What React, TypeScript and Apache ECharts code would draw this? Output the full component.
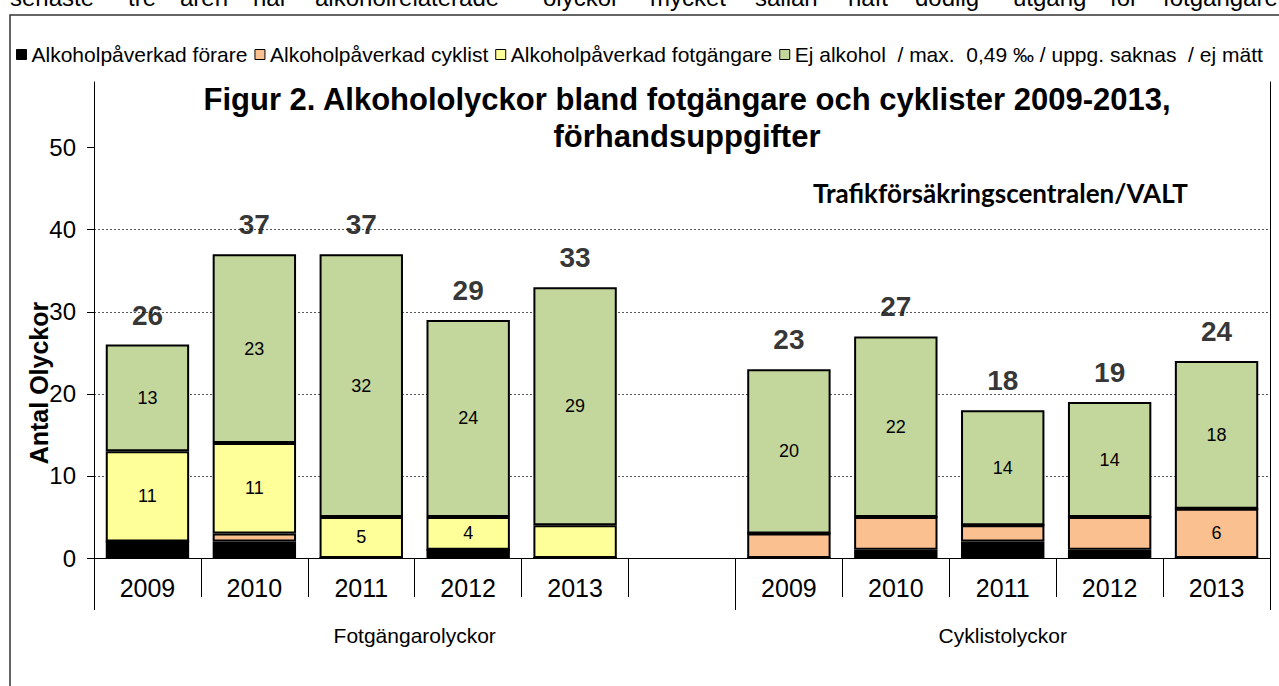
import React, { useEffect, useRef } from "react";
import * as echarts from "echarts";

// ---- data ----
const categories = ["2009", "2010", "2011", "2012", "2013", "", "2009", "2010", "2011", "2012", "2013"];
const groups = ["Fotgängarolyckor", "Cyklistolyckor"];
const groupBounds = [0, 6, 11];
const groupCenters = [3, 8.5];
const seriesNames = [
  "Alkoholpåverkad förare",
  "Alkoholpåverkad cyklist",
  "Alkoholpåverkad fotgängare",
  "Ej alkohol  / max.  0,49 ‰ / uppg. saknas  / ej mätt",
];
const forare = [2, 2, 0, 1, 0, null, 0, 1, 2, 1, 0];
const cyklist = [0, 1, 0, 0, 0, null, 3, 4, 2, 4, 6];
const fotgangare = [11, 11, 5, 4, 4, null, 0, 0, 0, 0, 0];
const ejAlkohol = [13, 23, 32, 24, 29, null, 20, 22, 14, 14, 18];
const totals = [26, 37, 37, 29, 33, null, 23, 27, 18, 19, 24];
const yTicks = [0, 10, 20, 30, 40, 50];

// which segments carry a value label
const showForare = [false, false, false, false, false, false, false, false, false, false, false];
const showCyklist = [false, false, false, false, false, false, false, false, false, false, true];
const showFotg = [true, true, true, true, false, false, false, false, false, false, false];
const showEj = [true, true, true, true, true, false, true, true, true, true, true];

const titleText = "Figur 2. Alkohololyckor bland fotgängare och cyklister 2009-2013,\nförhandsuppgifter";
const sourceText = "Trafikförsäkringscentralen/VALT";
const yTitle = "Antal Olyckor";
const topWords = ["senaste", "tre", "åren", "har", "alkoholrelaterade", "olyckor", "mycket", "sällan", "haft", "dödlig", "utgång", "för", "fotgängare."];
const topWordX = [10, 128, 180, 253, 315, 543, 650, 755, 848, 915, 1013, 1110, 1163];

const colors = ["#000000", "#FAC090", "#FFFF99", "#C3D69B"];
const FONT = "'Liberation Sans', Arial, sans-serif";

export default function App() {
  const ref = useRef<HTMLDivElement>(null);
  useEffect(() => {
    const chart = echarts.init(ref.current!, null, { renderer: "svg" });
    const values = [forare, cyklist, fotgangare, ejAlkohol];
    const shows = [showForare, showCyklist, showFotg, showEj];
    const barSeries = values.map((arr, si) => ({
      type: "bar",
      name: seriesNames[si],
      stack: "total",
      barWidth: "78%",
      itemStyle: { color: colors[si], borderColor: "#000", borderWidth: 2 },
      label: {
        show: false,
        position: "inside",
        color: "#000",
        fontSize: 18,
        fontFamily: FONT,
      },
      data: arr.map((v, i) => ({ value: v, label: { show: shows[si][i] } })),
    }));

    const graphic: any[] = [
      {
        type: "rect",
        shape: { x: 10, y: 15, width: 1400, height: 800 },
        style: { fill: "none", stroke: "#333", lineWidth: 1.5 },
        silent: true,
      },
      ...topWords.map((w, i) => ({
        type: "text",
        x: topWordX[i],
        y: -3,
        style: { text: w, font: `24px ${FONT}`, fill: "#000", verticalAlign: "middle", align: "left" },
      })),
      {
        type: "text",
        x: 687,
        y: 81,
        style: {
          text: titleText,
          font: `bold 31px ${FONT}`,
          fill: "#000",
          align: "center",
          verticalAlign: "top",
          lineHeight: 37,
        },
      },
      {
        type: "text",
        x: 813,
        y: 193,
        style: { text: sourceText, font: `bold 26px Lato, 'Open Sans', sans-serif`, fill: "#000", verticalAlign: "middle", align: "left" },
      },
      {
        type: "text",
        x: 39,
        y: 383,
        rotation: Math.PI / 2,
        style: { text: yTitle, font: `bold 25px ${FONT}`, fill: "#000", align: "center", verticalAlign: "middle" },
      },
    ];

    chart.setOption({
      animation: false,
      backgroundColor: "#fff",
      textStyle: { fontFamily: FONT },
      legend: {
        data: seriesNames,
        left: 16,
        top: 44,
        padding: 0,
        itemWidth: 10,
        itemHeight: 10,
        itemGap: 7,
        icon: "rect",
        itemStyle: { borderColor: "#000", borderWidth: 1 },
        textStyle: { fontSize: 21, color: "#000", fontFamily: FONT },
      },
      grid: { left: 94, right: 9, top: 82, bottom: 128 },
      xAxis: [
        {
          type: "category",
          data: categories,
          axisLine: { show: true, lineStyle: { color: "#000", width: 1 } },
          axisTick: { show: true, interval: 0, length: 39, lineStyle: { color: "#000", width: 1 } },
          axisLabel: { interval: 0, fontSize: 25, margin: 17, color: "#000", fontFamily: FONT },
        },
        {
          type: "value",
          min: 0,
          max: 11,
          position: "bottom",
          offset: 40,
          axisLine: { show: false },
          axisTick: { show: true, customValues: groupBounds, length: 52, lineStyle: { color: "#000", width: 1 } },
          axisLabel: {
            customValues: groupCenters,
            formatter: (v: number) => groups[groupCenters.indexOf(v)] ?? "",
            fontSize: 21,
            margin: 27,
            color: "#000",
            fontFamily: FONT,
          },
          splitLine: { show: false },
        },
      ],
      yAxis: [
        {
          type: "value",
          min: 0,
          max: 58,
          interval: 10,
          axisLine: { show: true, lineStyle: { color: "#000", width: 1 } },
          axisTick: { show: true, length: 7, customValues: yTicks, lineStyle: { color: "#000" } },
          axisLabel: { customValues: yTicks, fontSize: 24, margin: 18, color: "#000", fontFamily: FONT },
          splitLine: {
            show: true,
            showMinLine: false,
            showMaxLine: false,
            lineStyle: { color: "#555", width: 1, type: [2, 2] },
          },
        },
        {
          type: "value",
          min: 0,
          max: 58,
          position: "right",
          axisLine: { show: true, lineStyle: { color: "#000", width: 1 } },
          axisTick: { show: false },
          axisLabel: { show: false },
          splitLine: { show: false },
        },
      ],
      series: [
        ...barSeries,
        {
          type: "scatter",
          name: "Totalt",
          data: totals,
          symbolSize: 1,
          itemStyle: { color: "rgba(0,0,0,0)" },
          label: {
            show: true,
            position: "top",
            distance: 15,
            fontSize: 28,
            fontWeight: "bold",
            color: "#000",
            fontFamily: FONT,
          },
          z: 5,
        },
      ],
      graphic,
    });
    return () => chart.dispose();
  }, []);
  return (
    <div
      ref={ref}
      style={{ position: "fixed", left: 0, top: 0, width: 1279, height: 686, background: "#fff" }}
    />
  );
}
